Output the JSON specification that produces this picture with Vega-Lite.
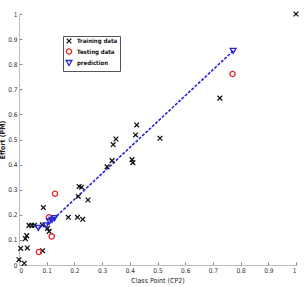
{
  "$schema": "https://vega.github.io/schema/vega-lite/v6.json",
  "width": 277,
  "height": 251,
  "autosize": {"type": "none"},
  "padding": {"left": 19, "top": 14, "right": 8, "bottom": 22},
  "background": "white",
  "config": {
    "view": {"stroke": null},
    "font": "Liberation Sans Narrow, DejaVu Sans Condensed, sans-serif",
    "axis": {
      "grid": false,
      "domainColor": "#bdbdbd",
      "domainWidth": 1,
      "tickColor": "#8a8a8a",
      "tickSize": -3,
      "labelFontSize": 6.5,
      "labelColor": "#333",
      "labelPadding": 5,
      "titleFontSize": 7,
      "titleColor": "#222222"
    },
    "legend": {
      "title": null, "orient": "none", "legendX": 44, "legendY": 22,
      "strokeColor": "#555", "fillColor": "white", "padding": 2,
      "labelFontSize": 6, "labelFontWeight": "bold", "labelColor": "#111",
      "rowPadding": 0, "symbolStrokeWidth": 1.3, "labelOffset": 4
    }
  },
  "data": {
    "values": [
      {"x": 1.0, "y": 1.0, "type": "Training data"},
      {"x": 0.725, "y": 0.665, "type": "Training data"},
      {"x": 0.509, "y": 0.505, "type": "Training data"},
      {"x": 0.425, "y": 0.558, "type": "Training data"},
      {"x": 0.421, "y": 0.518, "type": "Training data"},
      {"x": 0.350, "y": 0.502, "type": "Training data"},
      {"x": 0.340, "y": 0.480, "type": "Training data"},
      {"x": 0.336, "y": 0.416, "type": "Training data"},
      {"x": 0.318, "y": 0.391, "type": "Training data"},
      {"x": 0.408, "y": 0.420, "type": "Training data"},
      {"x": 0.411, "y": 0.408, "type": "Training data"},
      {"x": 0.217, "y": 0.313, "type": "Training data"},
      {"x": 0.226, "y": 0.310, "type": "Training data"},
      {"x": 0.214, "y": 0.273, "type": "Training data"},
      {"x": 0.249, "y": 0.259, "type": "Training data"},
      {"x": 0.178, "y": 0.190, "type": "Training data"},
      {"x": 0.211, "y": 0.190, "type": "Training data"},
      {"x": 0.230, "y": 0.182, "type": "Training data"},
      {"x": 0.088, "y": 0.229, "type": "Training data"},
      {"x": 0.036, "y": 0.158, "type": "Training data"},
      {"x": 0.046, "y": 0.158, "type": "Training data"},
      {"x": 0.056, "y": 0.158, "type": "Training data"},
      {"x": 0.084, "y": 0.160, "type": "Training data"},
      {"x": 0.103, "y": 0.146, "type": "Training data"},
      {"x": 0.109, "y": 0.134, "type": "Training data"},
      {"x": 0.028, "y": 0.117, "type": "Training data"},
      {"x": 0.023, "y": 0.105, "type": "Training data"},
      {"x": 0.006, "y": 0.066, "type": "Training data"},
      {"x": 0.030, "y": 0.068, "type": "Training data"},
      {"x": 0.000, "y": 0.021, "type": "Training data"},
      {"x": 0.019, "y": 0.007, "type": "Training data"},
      {"x": 0.085, "y": 0.057, "type": "Training data"},
      {"x": 0.130, "y": 0.284, "type": "Testing data"},
      {"x": 0.072, "y": 0.052, "type": "Testing data"},
      {"x": 0.118, "y": 0.114, "type": "Testing data"},
      {"x": 0.108, "y": 0.190, "type": "Testing data"},
      {"x": 0.771, "y": 0.761, "type": "Testing data"},
      {"x": 0.070, "y": 0.148, "type": "prediction"},
      {"x": 0.098, "y": 0.158, "type": "prediction"},
      {"x": 0.110, "y": 0.174, "type": "prediction"},
      {"x": 0.119, "y": 0.180, "type": "prediction"},
      {"x": 0.128, "y": 0.187, "type": "prediction"},
      {"x": 0.773, "y": 0.853, "type": "prediction"}
    ]
  },
  "encoding": {
    "x": {
      "field": "x", "type": "quantitative",
      "scale": {"domain": [0, 1], "nice": false},
      "axis": {"title": "Class Point (CP2)", "format": ".1~f", "tickCount": 10, "titlePadding": 3, "titleFontWeight": "normal", "titleColor": "#222222"}
    },
    "y": {
      "field": "y", "type": "quantitative",
      "scale": {"domain": [0, 1], "nice": false},
      "axis": {"title": "Effort (PM)", "format": ".1~f", "tickCount": 10, "titleFontWeight": "bold", "titlePadding": 2}
    }
  },
  "layer": [
    {
      "transform": [{"filter": "datum.type === 'prediction'"}],
      "mark": {"type": "line", "color": "#2424d8", "strokeWidth": 1.6, "strokeDash": [3, 1.5]},
      "encoding": {"order": {"field": "x", "type": "quantitative"}}
    },
    {
      "mark": {"type": "point", "filled": false, "strokeWidth": 1.3, "opacity": 1},
      "encoding": {
        "shape": {
          "field": "type", "type": "nominal",
          "scale": {"domain": ["Training data", "Testing data", "prediction"], "range": ["M-1,-1L1,1M-1,1L1,-1", "circle", "triangle-down"]}
        },
        "color": {
          "field": "type", "type": "nominal",
          "scale": {"domain": ["Training data", "Testing data", "prediction"], "range": ["#111111", "#e02828", "#2424d8"]}
        },
        "size": {
          "field": "type", "type": "nominal",
          "scale": {"domain": ["Training data", "Testing data", "prediction"], "range": [22, 34, 45]}
        }
      }
    }
  ]
}
